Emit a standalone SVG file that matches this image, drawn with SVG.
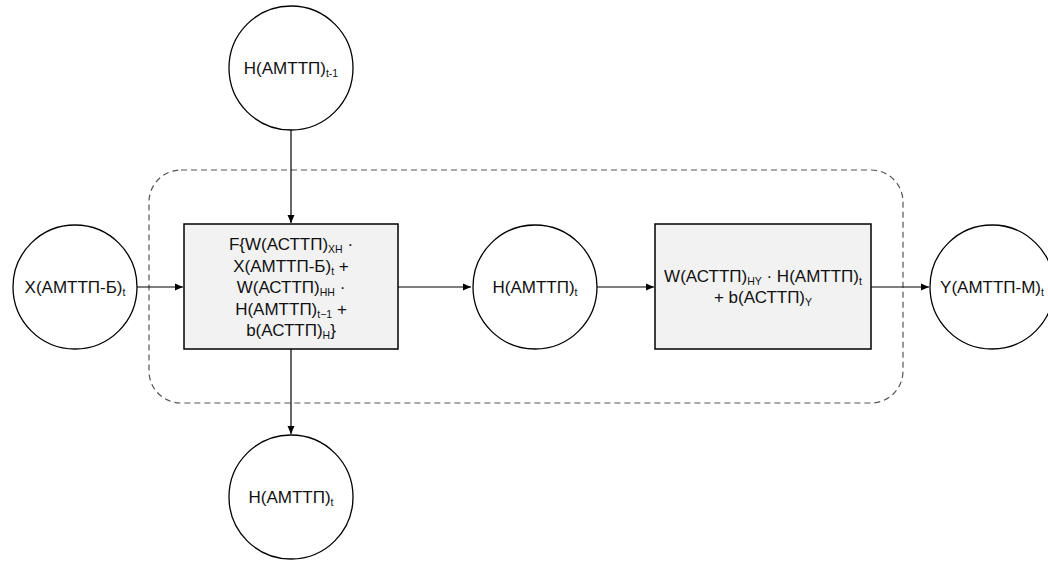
<svg xmlns="http://www.w3.org/2000/svg" width="1048" height="565" viewBox="0 0 1048 565">
<style>
.n{fill:#fff;stroke:#000;stroke-width:1.3}
.b{fill:#f2f2f2;stroke:#000;stroke-width:1.5}
.t{font-family:"Liberation Sans",Arial,sans-serif;font-size:17px;fill:#111;text-anchor:middle}
.s{font-size:10.5px}
.c{stroke:#000;stroke-width:1.2;fill:none}
</style>
<defs>
<marker id="a" markerWidth="10" markerHeight="10" refX="9" refY="5" orient="auto" markerUnits="userSpaceOnUse">
<path d="M1,1.5 L9,5 L1,8.5 Z" fill="#000"/>
</marker>
</defs>
<rect x="149" y="170" width="754" height="233" rx="32" ry="32" fill="none" stroke="#555" stroke-width="1.2" stroke-dasharray="6 4"/>
<g id="connectors">
<line class="c" x1="291" y1="130" x2="291" y2="223" marker-end="url(#a)"/>
<line class="c" x1="291" y1="349" x2="291" y2="434" marker-end="url(#a)"/>
<line class="c" x1="137" y1="287" x2="183" y2="287" marker-end="url(#a)"/>
<line class="c" x1="398" y1="287" x2="471" y2="287" marker-end="url(#a)"/>
<line class="c" x1="597" y1="287" x2="654" y2="287" marker-end="url(#a)"/>
<line class="c" x1="871" y1="287" x2="929" y2="287" marker-end="url(#a)"/>
</g>
<g id="node-h-prev">
<circle class="n" cx="291" cy="68" r="62"/>
<text class="t" x="291" y="74">H(АМТТП)<tspan class="s" dy="3">t-1</tspan></text>
</g>
<g id="node-x">
<circle class="n" cx="75" cy="287" r="62"/>
<text class="t" x="75" y="293">X(АМТТП-Б)<tspan class="s" dy="3">t</tspan></text>
</g>
<g id="node-f">
<rect class="b" x="184" y="224" width="214" height="125"/>
<text class="t" x="291" y="250">F{W(АСТТП)<tspan class="s" dy="3">XH</tspan><tspan dy="-3"> ·</tspan></text>
<text class="t" x="291" y="272">X(АМТТП-Б)<tspan class="s" dy="3">t</tspan><tspan dy="-3"> +</tspan></text>
<text class="t" x="291" y="293">W(АСТТП)<tspan class="s" dy="3">HH</tspan><tspan dy="-3"> ·</tspan></text>
<text class="t" x="291" y="315">H(АМТТП)<tspan class="s" dy="3">t−1</tspan><tspan dy="-3"> +</tspan></text>
<text class="t" x="291" y="336">b(АСТТП)<tspan class="s" dy="3">H</tspan><tspan dy="-3">}</tspan></text>
</g>
<g id="node-h">
<circle class="n" cx="535" cy="287" r="62"/>
<text class="t" x="535" y="293">H(АМТТП)<tspan class="s" dy="3">t</tspan></text>
</g>
<g id="node-y-calc">
<rect class="b" x="655" y="224" width="216" height="125"/>
<text class="t" x="763" y="282">W(АСТТП)<tspan class="s" dy="3">HY</tspan><tspan dy="-3"> · H(АМТТП)</tspan><tspan class="s" dy="3">t</tspan></text>
<text class="t" x="763" y="303">+ b(АСТТП)<tspan class="s" dy="3">Y</tspan></text>
</g>
<g id="node-y">
<circle class="n" cx="992" cy="287" r="62"/>
<text class="t" x="992" y="293">Y(АМТТП-М)<tspan class="s" dy="3">t</tspan></text>
</g>
<g id="node-h-out">
<circle class="n" cx="291" cy="497" r="62"/>
<text class="t" x="291" y="503">H(АМТТП)<tspan class="s" dy="3">t</tspan></text>
</g>
</svg>
